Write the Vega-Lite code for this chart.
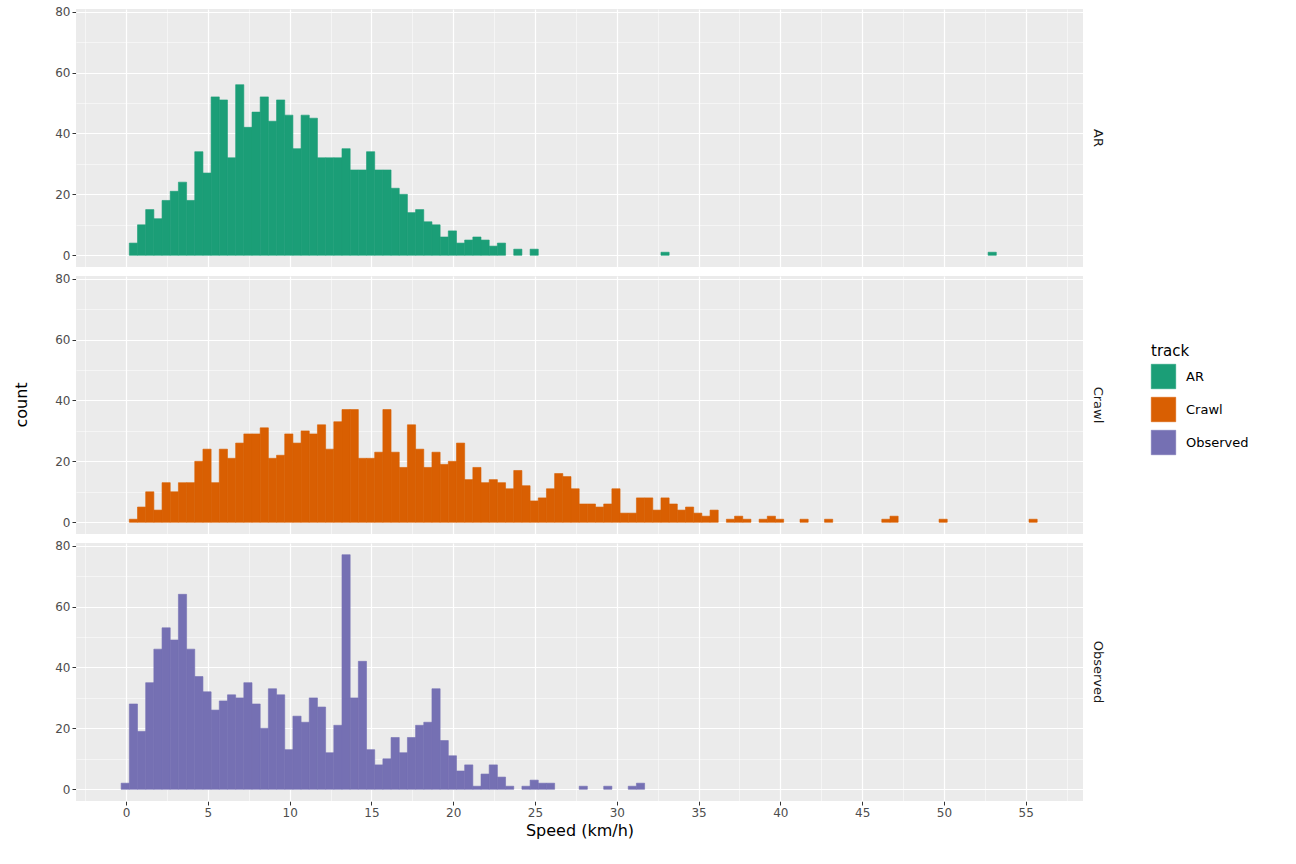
{
"$schema":"https://vega.github.io/schema/vega-lite/v6.json",
"background":"white","padding":{"left":14,"top":5,"right":5,"bottom":5},
"config":{"font":"DejaVu Sans","view":{"fill":"#EBEBEB","stroke":null},
"axis":{"labelColor":"#4D4D4D","labelFontSize":12,"tickColor":"#333333","domain":false,"gridColor":"#FFFFFF","titleFontSize":15,"titleFontWeight":"normal","titleColor":"#000000"},
"legend":{"titleFontSize":15,"titleFontWeight":"normal","labelFontSize":13,"symbolType":"square","symbolSize":600,"symbolStrokeWidth":0.5,"symbolStrokeColor":"#FFFFFF","rowPadding":6,"labelOffset":10}},
"data":{"values":[
{"track":"AR","x0":0.2,"x1":0.7,"count":4},{"track":"AR","x0":0.7,"x1":1.2,"count":10},{"track":"AR","x0":1.2,"x1":1.7,"count":15},{"track":"AR","x0":1.7,"x1":2.2,"count":12},{"track":"AR","x0":2.2,"x1":2.7,"count":18},{"track":"AR","x0":2.7,"x1":3.2,"count":21},{"track":"AR","x0":3.2,"x1":3.7,"count":24},{"track":"AR","x0":3.7,"x1":4.2,"count":18},{"track":"AR","x0":4.2,"x1":4.7,"count":34},{"track":"AR","x0":4.7,"x1":5.2,"count":27},{"track":"AR","x0":5.2,"x1":5.7,"count":52},{"track":"AR","x0":5.7,"x1":6.2,"count":51},{"track":"AR","x0":6.2,"x1":6.7,"count":32},{"track":"AR","x0":6.7,"x1":7.2,"count":56},{"track":"AR","x0":7.2,"x1":7.7,"count":42},{"track":"AR","x0":7.7,"x1":8.2,"count":47},{"track":"AR","x0":8.2,"x1":8.7,"count":52},{"track":"AR","x0":8.7,"x1":9.2,"count":44},{"track":"AR","x0":9.2,"x1":9.7,"count":51},{"track":"AR","x0":9.7,"x1":10.2,"count":46},{"track":"AR","x0":10.2,"x1":10.7,"count":35},{"track":"AR","x0":10.7,"x1":11.2,"count":46},{"track":"AR","x0":11.2,"x1":11.7,"count":45},{"track":"AR","x0":11.7,"x1":12.2,"count":32},{"track":"AR","x0":12.2,"x1":12.7,"count":32},{"track":"AR","x0":12.7,"x1":13.2,"count":32},{"track":"AR","x0":13.2,"x1":13.7,"count":35},{"track":"AR","x0":13.7,"x1":14.2,"count":28},{"track":"AR","x0":14.2,"x1":14.7,"count":28},{"track":"AR","x0":14.7,"x1":15.2,"count":34},{"track":"AR","x0":15.2,"x1":15.7,"count":28},{"track":"AR","x0":15.7,"x1":16.2,"count":28},{"track":"AR","x0":16.2,"x1":16.7,"count":22},{"track":"AR","x0":16.7,"x1":17.2,"count":20},{"track":"AR","x0":17.2,"x1":17.7,"count":14},{"track":"AR","x0":17.7,"x1":18.2,"count":15},{"track":"AR","x0":18.2,"x1":18.7,"count":11},{"track":"AR","x0":18.7,"x1":19.2,"count":10},{"track":"AR","x0":19.2,"x1":19.7,"count":6},{"track":"AR","x0":19.7,"x1":20.2,"count":8},{"track":"AR","x0":20.2,"x1":20.7,"count":4},{"track":"AR","x0":20.7,"x1":21.2,"count":5},{"track":"AR","x0":21.2,"x1":21.7,"count":6},{"track":"AR","x0":21.7,"x1":22.2,"count":5},{"track":"AR","x0":22.2,"x1":22.7,"count":3},{"track":"AR","x0":22.7,"x1":23.2,"count":4},{"track":"AR","x0":23.7,"x1":24.2,"count":2},{"track":"AR","x0":24.7,"x1":25.2,"count":2},{"track":"AR","x0":32.7,"x1":33.2,"count":1},{"track":"AR","x0":52.7,"x1":53.2,"count":1},
{"track":"Crawl","x0":0.2,"x1":0.7,"count":1},{"track":"Crawl","x0":0.7,"x1":1.2,"count":5},{"track":"Crawl","x0":1.2,"x1":1.7,"count":10},{"track":"Crawl","x0":1.7,"x1":2.2,"count":4},{"track":"Crawl","x0":2.2,"x1":2.7,"count":13},{"track":"Crawl","x0":2.7,"x1":3.2,"count":10},{"track":"Crawl","x0":3.2,"x1":3.7,"count":13},{"track":"Crawl","x0":3.7,"x1":4.2,"count":13},{"track":"Crawl","x0":4.2,"x1":4.7,"count":20},{"track":"Crawl","x0":4.7,"x1":5.2,"count":24},{"track":"Crawl","x0":5.2,"x1":5.7,"count":13},{"track":"Crawl","x0":5.7,"x1":6.2,"count":24},{"track":"Crawl","x0":6.2,"x1":6.7,"count":21},{"track":"Crawl","x0":6.7,"x1":7.2,"count":26},{"track":"Crawl","x0":7.2,"x1":7.7,"count":29},{"track":"Crawl","x0":7.7,"x1":8.2,"count":29},{"track":"Crawl","x0":8.2,"x1":8.7,"count":31},{"track":"Crawl","x0":8.7,"x1":9.2,"count":21},{"track":"Crawl","x0":9.2,"x1":9.7,"count":22},{"track":"Crawl","x0":9.7,"x1":10.2,"count":29},{"track":"Crawl","x0":10.2,"x1":10.7,"count":26},{"track":"Crawl","x0":10.7,"x1":11.2,"count":30},{"track":"Crawl","x0":11.2,"x1":11.7,"count":29},{"track":"Crawl","x0":11.7,"x1":12.2,"count":32},{"track":"Crawl","x0":12.2,"x1":12.7,"count":24},{"track":"Crawl","x0":12.7,"x1":13.2,"count":33},{"track":"Crawl","x0":13.2,"x1":13.7,"count":37},{"track":"Crawl","x0":13.7,"x1":14.2,"count":37},{"track":"Crawl","x0":14.2,"x1":14.7,"count":21},{"track":"Crawl","x0":14.7,"x1":15.2,"count":21},{"track":"Crawl","x0":15.2,"x1":15.7,"count":23},{"track":"Crawl","x0":15.7,"x1":16.2,"count":37},{"track":"Crawl","x0":16.2,"x1":16.7,"count":23},{"track":"Crawl","x0":16.7,"x1":17.2,"count":18},{"track":"Crawl","x0":17.2,"x1":17.7,"count":32},{"track":"Crawl","x0":17.7,"x1":18.2,"count":24},{"track":"Crawl","x0":18.2,"x1":18.7,"count":18},{"track":"Crawl","x0":18.7,"x1":19.2,"count":23},{"track":"Crawl","x0":19.2,"x1":19.7,"count":19},{"track":"Crawl","x0":19.7,"x1":20.2,"count":20},{"track":"Crawl","x0":20.2,"x1":20.7,"count":26},{"track":"Crawl","x0":20.7,"x1":21.2,"count":14},{"track":"Crawl","x0":21.2,"x1":21.7,"count":18},{"track":"Crawl","x0":21.7,"x1":22.2,"count":13},{"track":"Crawl","x0":22.2,"x1":22.7,"count":14},{"track":"Crawl","x0":22.7,"x1":23.2,"count":13},{"track":"Crawl","x0":23.2,"x1":23.7,"count":11},{"track":"Crawl","x0":23.7,"x1":24.2,"count":17},{"track":"Crawl","x0":24.2,"x1":24.7,"count":12},{"track":"Crawl","x0":24.7,"x1":25.2,"count":7},{"track":"Crawl","x0":25.2,"x1":25.7,"count":8},{"track":"Crawl","x0":25.7,"x1":26.2,"count":11},{"track":"Crawl","x0":26.2,"x1":26.7,"count":16},{"track":"Crawl","x0":26.7,"x1":27.2,"count":15},{"track":"Crawl","x0":27.2,"x1":27.7,"count":11},{"track":"Crawl","x0":27.7,"x1":28.2,"count":6},{"track":"Crawl","x0":28.2,"x1":28.7,"count":6},{"track":"Crawl","x0":28.7,"x1":29.2,"count":5},{"track":"Crawl","x0":29.2,"x1":29.7,"count":6},{"track":"Crawl","x0":29.7,"x1":30.2,"count":11},{"track":"Crawl","x0":30.2,"x1":30.7,"count":3},{"track":"Crawl","x0":30.7,"x1":31.2,"count":3},{"track":"Crawl","x0":31.2,"x1":31.7,"count":8},{"track":"Crawl","x0":31.7,"x1":32.2,"count":8},{"track":"Crawl","x0":32.2,"x1":32.7,"count":4},{"track":"Crawl","x0":32.7,"x1":33.2,"count":8},{"track":"Crawl","x0":33.2,"x1":33.7,"count":6},{"track":"Crawl","x0":33.7,"x1":34.2,"count":4},{"track":"Crawl","x0":34.2,"x1":34.7,"count":5},{"track":"Crawl","x0":34.7,"x1":35.2,"count":3},{"track":"Crawl","x0":35.2,"x1":35.7,"count":2},{"track":"Crawl","x0":35.7,"x1":36.2,"count":4},{"track":"Crawl","x0":36.7,"x1":37.2,"count":1},{"track":"Crawl","x0":37.2,"x1":37.7,"count":2},{"track":"Crawl","x0":37.7,"x1":38.2,"count":1},{"track":"Crawl","x0":38.7,"x1":39.2,"count":1},{"track":"Crawl","x0":39.2,"x1":39.7,"count":2},{"track":"Crawl","x0":39.7,"x1":40.2,"count":1},{"track":"Crawl","x0":41.2,"x1":41.7,"count":1},{"track":"Crawl","x0":42.7,"x1":43.2,"count":1},{"track":"Crawl","x0":46.2,"x1":46.7,"count":1},{"track":"Crawl","x0":46.7,"x1":47.2,"count":2},{"track":"Crawl","x0":49.7,"x1":50.2,"count":1},{"track":"Crawl","x0":55.2,"x1":55.7,"count":1},
{"track":"Observed","x0":-0.3,"x1":0.2,"count":2},{"track":"Observed","x0":0.2,"x1":0.7,"count":28},{"track":"Observed","x0":0.7,"x1":1.2,"count":19},{"track":"Observed","x0":1.2,"x1":1.7,"count":35},{"track":"Observed","x0":1.7,"x1":2.2,"count":46},{"track":"Observed","x0":2.2,"x1":2.7,"count":53},{"track":"Observed","x0":2.7,"x1":3.2,"count":49},{"track":"Observed","x0":3.2,"x1":3.7,"count":64},{"track":"Observed","x0":3.7,"x1":4.2,"count":46},{"track":"Observed","x0":4.2,"x1":4.7,"count":37},{"track":"Observed","x0":4.7,"x1":5.2,"count":32},{"track":"Observed","x0":5.2,"x1":5.7,"count":26},{"track":"Observed","x0":5.7,"x1":6.2,"count":29},{"track":"Observed","x0":6.2,"x1":6.7,"count":31},{"track":"Observed","x0":6.7,"x1":7.2,"count":30},{"track":"Observed","x0":7.2,"x1":7.7,"count":35},{"track":"Observed","x0":7.7,"x1":8.2,"count":28},{"track":"Observed","x0":8.2,"x1":8.7,"count":20},{"track":"Observed","x0":8.7,"x1":9.2,"count":33},{"track":"Observed","x0":9.2,"x1":9.7,"count":31},{"track":"Observed","x0":9.7,"x1":10.2,"count":13},{"track":"Observed","x0":10.2,"x1":10.7,"count":24},{"track":"Observed","x0":10.7,"x1":11.2,"count":22},{"track":"Observed","x0":11.2,"x1":11.7,"count":30},{"track":"Observed","x0":11.7,"x1":12.2,"count":27},{"track":"Observed","x0":12.2,"x1":12.7,"count":12},{"track":"Observed","x0":12.7,"x1":13.2,"count":21},{"track":"Observed","x0":13.2,"x1":13.7,"count":77},{"track":"Observed","x0":13.7,"x1":14.2,"count":30},{"track":"Observed","x0":14.2,"x1":14.7,"count":42},{"track":"Observed","x0":14.7,"x1":15.2,"count":13},{"track":"Observed","x0":15.2,"x1":15.7,"count":8},{"track":"Observed","x0":15.7,"x1":16.2,"count":10},{"track":"Observed","x0":16.2,"x1":16.7,"count":17},{"track":"Observed","x0":16.7,"x1":17.2,"count":12},{"track":"Observed","x0":17.2,"x1":17.7,"count":17},{"track":"Observed","x0":17.7,"x1":18.2,"count":21},{"track":"Observed","x0":18.2,"x1":18.7,"count":22},{"track":"Observed","x0":18.7,"x1":19.2,"count":33},{"track":"Observed","x0":19.2,"x1":19.7,"count":16},{"track":"Observed","x0":19.7,"x1":20.2,"count":11},{"track":"Observed","x0":20.2,"x1":20.7,"count":6},{"track":"Observed","x0":20.7,"x1":21.2,"count":8},{"track":"Observed","x0":21.2,"x1":21.7,"count":1},{"track":"Observed","x0":21.7,"x1":22.2,"count":5},{"track":"Observed","x0":22.2,"x1":22.7,"count":8},{"track":"Observed","x0":22.7,"x1":23.2,"count":4},{"track":"Observed","x0":23.2,"x1":23.7,"count":1},{"track":"Observed","x0":24.2,"x1":24.7,"count":1},{"track":"Observed","x0":24.7,"x1":25.2,"count":3},{"track":"Observed","x0":25.2,"x1":25.7,"count":2},{"track":"Observed","x0":25.7,"x1":26.2,"count":2},{"track":"Observed","x0":27.7,"x1":28.2,"count":1},{"track":"Observed","x0":29.2,"x1":29.7,"count":1},{"track":"Observed","x0":30.7,"x1":31.2,"count":1},{"track":"Observed","x0":31.2,"x1":31.7,"count":2}
]},
"facet":{"row":{"field":"track","type":"nominal","title":"count",
"header":{"labelAngle":90,"labelOrient":"right","labelFontSize":13,"labelColor":"#1A1A1A","labelPadding":8,"titleOrient":"left","titleAngle":-90,"titleFontSize":16,"titleFontWeight":"normal","titlePadding":-2}}},
"spacing":9,
"spec":{"width":1007,"height":258,
"mark":{"type":"rect","strokeWidth":0.6},
"encoding":{
"x":{"field":"x0","type":"quantitative","title":"Speed (km/h)","scale":{"domain":[-3.06,58.5],"nice":false,"zero":false},
"axis":{"values":[-2.5,0,2.5,5,7.5,10,12.5,15,17.5,20,22.5,25,27.5,30,32.5,35,37.5,40,42.5,45,47.5,50,52.5,55,57.5],
"labelExpr":"datum.value % 5 == 0 ? datum.label : ''",
"tickSize":{"condition":{"test":"datum.value % 5 == 0","value":4},"value":0},
"gridWidth":{"condition":{"test":"datum.value % 5 == 0","value":1.2},"value":0.5},"titlePadding":4,"titleFontSize":16}},
"x2":{"field":"x1"},
"y":{"field":"count","type":"quantitative","title":null,"scale":{"domain":[-3.85,80.85],"nice":false,"zero":false},
"axis":{"values":[0,10,20,30,40,50,60,70,80],
"labelExpr":"datum.value % 20 == 0 ? datum.label : ''",
"tickSize":{"condition":{"test":"datum.value % 20 == 0","value":4},"value":0},
"gridWidth":{"condition":{"test":"datum.value % 20 == 0","value":1.2},"value":0.5}}},
"y2":{"datum":0},
"color":{"field":"track","type":"nominal","title":"track","scale":{"domain":["AR","Crawl","Observed"],"range":["#1B9E77","#D95F02","#7570B3"]},
"legend":{"orient":"none","legendX":1075,"legendY":335}},
"stroke":{"field":"track","type":"nominal","scale":{"domain":["AR","Crawl","Observed"],"range":["#1B9E77","#D95F02","#7570B3"]},"legend":null}
}}
}
